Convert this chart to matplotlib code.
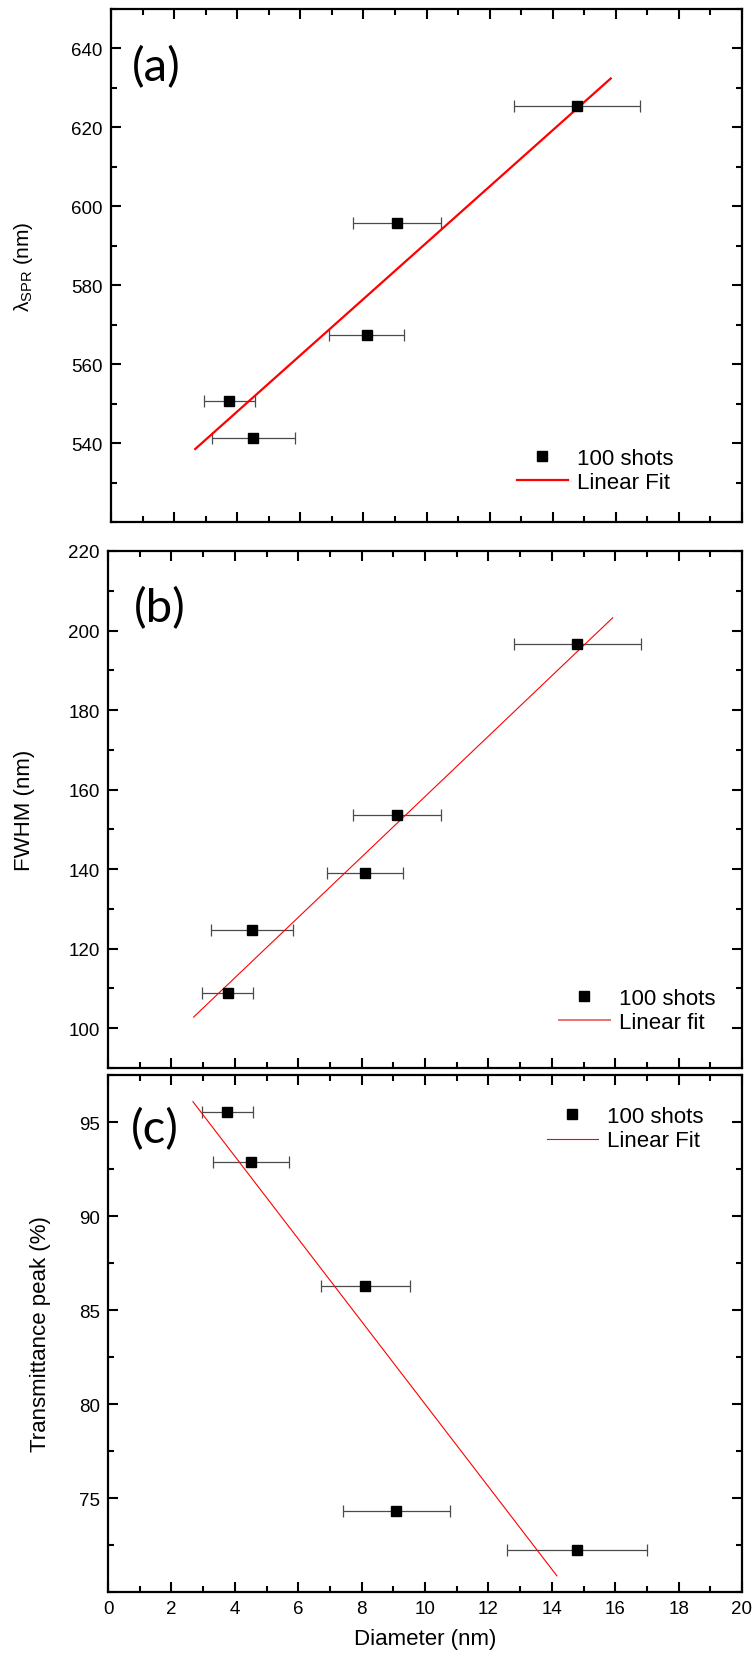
import matplotlib
matplotlib.use('Agg')
import matplotlib.pyplot as plt
from matplotlib.ticker import MultipleLocator, FixedLocator
import numpy as np

plt.rcParams['font.family'] = ['Liberation Sans', 'DejaVu Sans']
plt.rcParams['mathtext.fontset'] = 'custom'
plt.rcParams['mathtext.rm'] = 'Liberation Sans'
plt.rcParams['mathtext.it'] = 'Liberation Sans:italic'

# panel (a): SPR wavelength vs diameter
diam_a = [3.75, 4.51, 8.1, 9.07, 14.76]
diam_err_a = [0.8, 1.31, 1.2, 1.4, 2.0]
spr = [550.6, 541.3, 567.3, 595.7, 625.5]
fit_a_x = [2.67, 15.84]
fit_a_y = [538.5, 632.4]
ticks_a = [540, 560, 580, 600, 620, 640]

# panel (b): FWHM vs diameter
diam_b = [3.78, 4.54, 8.12, 9.12, 14.8]
diam_err_b = [0.8, 1.3, 1.2, 1.4, 2.0]
fwhm = [108.8, 124.8, 139.0, 153.6, 196.7]
fit_b_x = [2.7, 15.92]
fit_b_y = [102.8, 203.2]
ticks_b = [100, 120, 140, 160, 180, 200, 220]

# panel (c): transmittance peak vs diameter
diam_c = [3.76, 4.52, 8.12, 9.1, 14.79]
diam_err_c = [0.8, 1.2, 1.4, 1.7, 2.2]
trans = [95.53, 92.87, 86.28, 74.29, 72.21]
fit_c_x = [2.68, 14.16]
fit_c_y = [96.08, 70.86]
ticks_c = [75, 80, 85, 90, 95]

W, H = 756, 1665
fig = plt.figure(figsize=(W / 100, H / 100), dpi=100)


def box(left, right, top, bottom):
    return [left / W, (H - bottom) / H, (right - left) / W, (bottom - top) / H]


ax_a = fig.add_axes(box(111, 742, 10, 523))
ax_b = fig.add_axes(box(108, 742, 552, 1069))
ax_c = fig.add_axes(box(108, 742, 1076, 1593))


def style(ax, ylim, yticks, ymin, show_x):
    ax.set_xlim(0, 20)
    ax.set_ylim(*ylim)
    ax.xaxis.set_major_locator(MultipleLocator(2))
    ax.xaxis.set_minor_locator(MultipleLocator(1))
    ax.yaxis.set_major_locator(FixedLocator(yticks))
    ax.yaxis.set_minor_locator(MultipleLocator(ymin))
    ax.tick_params(which='both', direction='in', top=True, right=True,
                   width=1.5, labelsize=13.5, pad=6)
    ax.tick_params(which='major', length=7)
    ax.tick_params(which='minor', length=4)
    ax.tick_params(axis='x', labelbottom=show_x)
    for s in ax.spines.values():
        s.set_linewidth(1.6)


def points(ax, x, xerr, y):
    ax.errorbar(x, y, xerr=xerr, fmt='none', ecolor='#4a4a4a', elinewidth=0.9,
                capsize=4, capthick=0.9, zorder=2)
    h, = ax.plot(x, y, 's', color='black', ms=7, zorder=3, label='100 shots')
    return h


# (a)
h1 = points(ax_a, diam_a, diam_err_a, spr)
h2, = ax_a.plot(fit_a_x, fit_a_y, color='red', lw=1.6, label='Linear Fit')
style(ax_a, (520, 650), ticks_a, 10, False)
ax_a.set_ylabel('λ$_{\\rm SPR}$ (nm)', fontsize=15, labelpad=26)
ax_a.legend(handles=[h1, h2], loc='upper left', bbox_to_anchor=(0.643, 0.145),
            frameon=False, fontsize=16, handlelength=2.3, handletextpad=0.4,
            borderpad=0, borderaxespad=0, labelspacing=0.15)
ax_a.text(0.033, 0.887, '(a)', transform=ax_a.transAxes, fontsize=34,
          family='Lato', va='center', ha='left')

# (b)
h1 = points(ax_b, diam_b, diam_err_b, fwhm)
h2, = ax_b.plot(fit_b_x, fit_b_y, color='red', lw=0.8, label='Linear fit')
style(ax_b, (90, 220), ticks_b, 10, False)
ax_b.set_ylabel('FWHM (nm)', fontsize=16, labelpad=24)
lg = ax_b.legend(handles=[h1, h2], loc='upper left', bbox_to_anchor=(0.711, 0.155),
                 frameon=False, fontsize=16, handlelength=2.3, handletextpad=0.4,
                 borderpad=0, borderaxespad=0, labelspacing=0.15)
lg.get_lines()[1].set_color('#f07070')
lg.get_lines()[1].set_linewidth(1.4)
ax_b.text(0.041, 0.89, '(b)', transform=ax_b.transAxes, fontsize=34,
          family='Lato', va='center', ha='left')

# (c)
h1 = points(ax_c, diam_c, diam_err_c, trans)
h2, = ax_c.plot(fit_c_x, fit_c_y, color='red', lw=0.8, label='Linear Fit')
style(ax_c, (70, 97.5), ticks_c, 2.5, True)
ax_c.set_ylabel('Transmittance peak (%)', fontsize=16, labelpad=20)
ax_c.set_xlabel('Diameter (nm)', fontsize=16, labelpad=8)
ax_c.legend(handles=[h1, h2], loc='upper left', bbox_to_anchor=(0.692, 0.94),
            frameon=False, fontsize=16, handlelength=2.3, handletextpad=0.4,
            borderpad=0, borderaxespad=0, labelspacing=0.15)
ax_c.text(0.036, 0.896, '(c)', transform=ax_c.transAxes, fontsize=34,
          family='Lato', va='center', ha='left')

fig.savefig('out.png', dpi=100)
